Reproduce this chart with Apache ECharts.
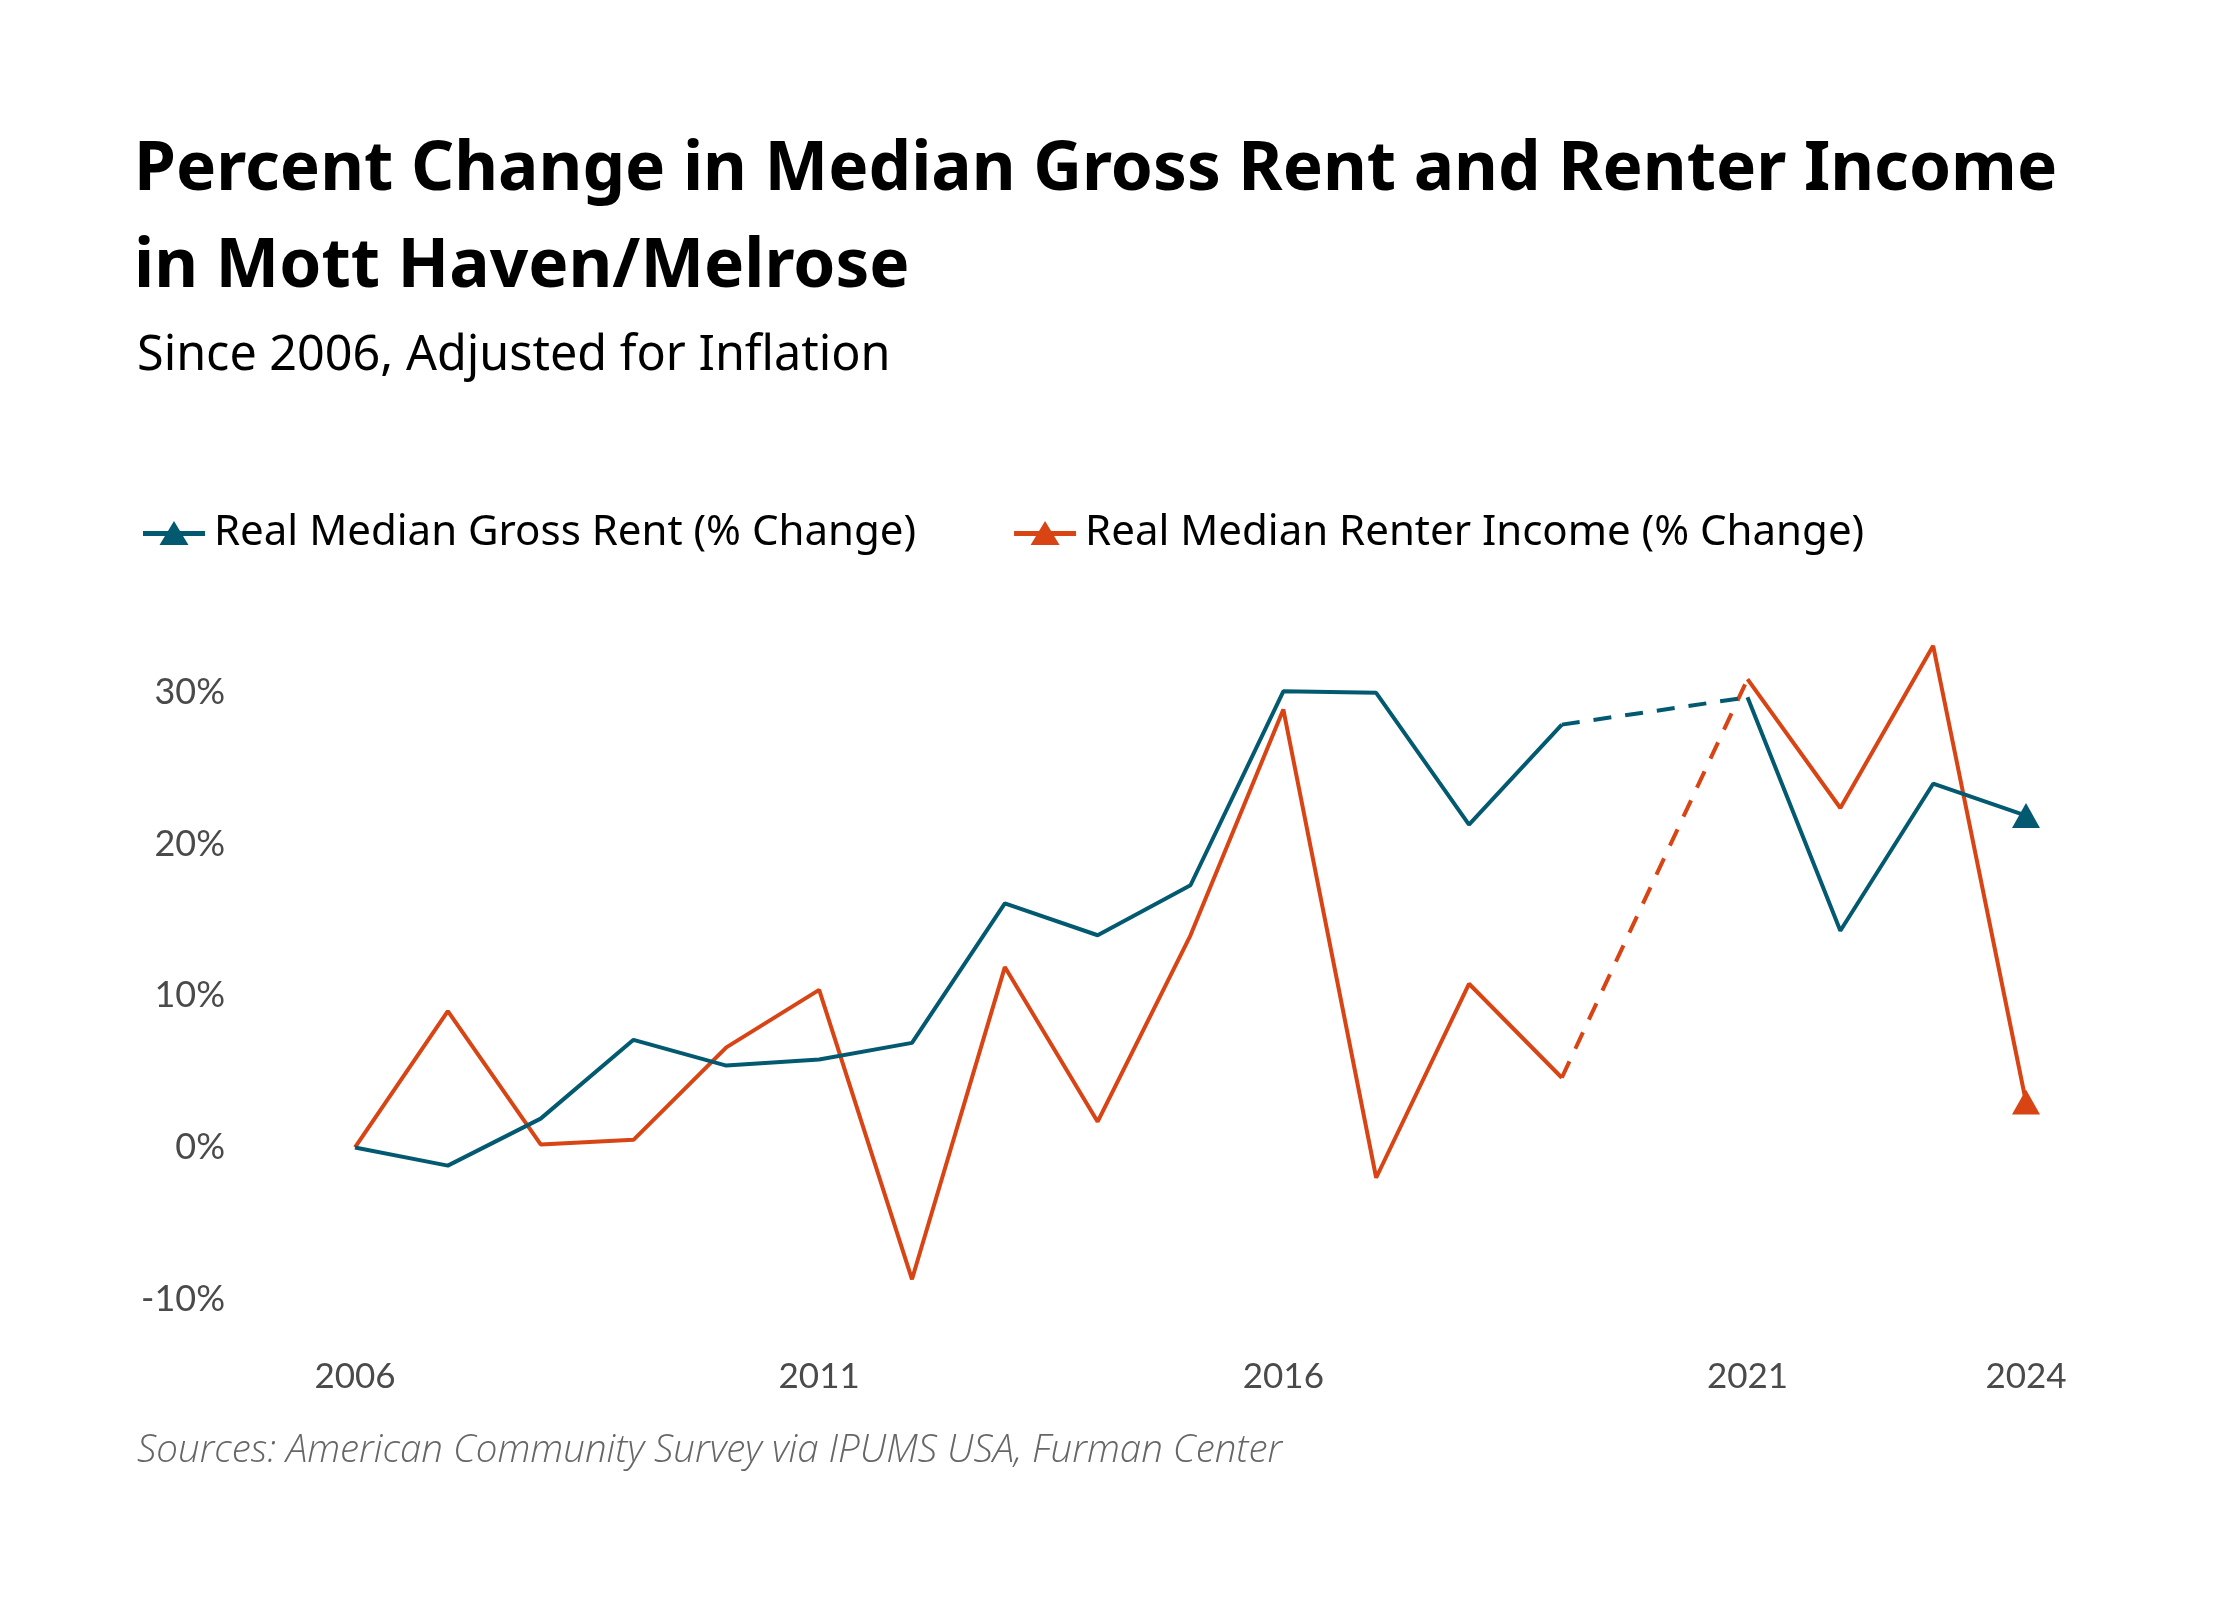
<!DOCTYPE html>
<html>
<head>
<meta charset="utf-8">
<script src="https://cdn.jsdelivr.net/npm/echarts@6/dist/echarts.min.js"></script>
<style>
  html, body { margin: 0; padding: 0; background: #ffffff; }
  #chart { width: 2240px; height: 1600px; }
</style>
</head>
<body>
<div id="chart"></div>
<script>
// 年份（2020 无数据）
const years = ['2006', '2007', '2008', '2009', '2010', '2011', '2012', '2013', '2014', '2015',
  '2016', '2017', '2018', '2019', '2020', '2021', '2022', '2023', '2024'];
// 需要显示的横轴标签
const shownYears = ['2006', '2011', '2016', '2021', '2024'];

// 实际租金中位数变化 (%)
const rentValues = [0, -1.2, 1.9, 7.1, 5.4, 5.8, 6.9, 16.1, 14.0, 17.3,
  30.1, 30.0, 21.3, 27.9, null, 29.7, 14.3, 24.0, 21.9];
// 租户收入中位数变化 (%)
const incomeValues = [0, 9.0, 0.2, 0.5, 6.6, 10.4, -8.7, 11.9, 1.7, 14.0,
  28.9, -2.0, 10.8, 4.6, null, 30.9, 22.4, 33.1, 3.0];

// 纵轴刻度
const yTicks = [-10, 0, 10, 20, 30];

const rentColor = '#035a70';
const incomeColor = '#d94414';
const legendIcon = 'path://M0,10 L62,10 L62,15 L0,15 Z M31,0 L45.5,24 L16.5,24 Z';

// 实线：末端带三角形
function solidData(values) {
  return values.map((v, i) => {
    if (i === values.length - 1) {
      return { value: v, symbol: 'triangle', symbolSize: [28, 25] };
    }
    return v;
  });
}

// 虚线：只连接 2019 与 2021
function gapData(values) {
  const gap = years.indexOf('2020');
  return values.map((v, i) => (i === gap - 1 || i === gap + 1) ? v : null);
}

const chart = echarts.init(document.getElementById('chart'));

chart.setOption({
  backgroundColor: '#ffffff',
  animation: false,
  title: [
    {
      text: 'Percent Change in Median Gross Rent and Renter Income\nin Mott Haven/Melrose',
      left: 129,
      top: 117,
      textStyle: {
        fontFamily: 'Noto Sans',
        fontWeight: 'bold',
        fontSize: 67.5,
        lineHeight: 97,
        color: '#000000'
      }
    },
    {
      text: 'Since 2006, Adjusted for Inflation',
      left: 132,
      top: 320,
      textStyle: {
        fontFamily: 'Noto Sans',
        fontWeight: 'normal',
        fontSize: 48.5,
        lineHeight: 62,
        color: '#000000'
      }
    },
    {
      text: 'Sources: American Community Survey via IPUMS USA, Furman Center',
      left: 132,
      top: 1422,
      textStyle: {
        fontFamily: 'Open Sans',
        fontStyle: 'italic',
        fontWeight: 300,
        fontSize: 38.5,
        lineHeight: 48,
        color: '#666666'
      }
    }
  ],
  legend: {
    left: 138,
    top: 507,
    itemWidth: 62,
    itemHeight: 24,
    itemGap: 98,
    textStyle: {
      fontFamily: 'Noto Sans',
      fontSize: 42,
      color: '#000000',
      padding: [0, 0, 0, 4]
    },
    data: [
      { name: 'Real Median Gross Rent (% Change)', icon: legendIcon, itemStyle: { color: rentColor } },
      { name: 'Real Median Renter Income (% Change)', icon: legendIcon, itemStyle: { color: incomeColor } }
    ]
  },
  grid: {
    left: 355,
    right: 214,
    top: 617,
    bottom: 301,
    containLabel: false
  },
  xAxis: {
    type: 'category',
    data: years,
    boundaryGap: false,
    axisLine: { show: false },
    axisTick: { show: false },
    splitLine: { show: false },
    axisLabel: {
      interval: 0,
      margin: 60,
      fontFamily: 'Lato',
      fontSize: 35,
      color: '#4a4a4a',
      formatter: v => (shownYears.includes(v) ? v : '')
    }
  },
  yAxis: {
    type: 'value',
    min: -10,
    max: 35,
    interval: 10,
    axisLine: { show: false },
    axisTick: { show: false },
    splitLine: { show: false },
    axisLabel: {
      margin: 130,
      fontFamily: 'Lato',
      fontSize: 36,
      color: '#4a4a4a',
      formatter: v => (yTicks.includes(v) ? v + '%' : '')
    }
  },
  series: [
    {
      name: 'Real Median Gross Rent (% Change)',
      type: 'line',
      data: solidData(rentValues),
      symbol: 'none',
      connectNulls: false,
      color: rentColor,
      lineStyle: { width: 4, color: rentColor },
      itemStyle: { color: rentColor },
      z: 3
    },
    {
      name: 'Real Median Gross Rent (% Change)',
      type: 'line',
      data: gapData(rentValues),
      symbol: 'none',
      connectNulls: true,
      lineStyle: { width: 4, color: rentColor, type: [18, 14] },
      z: 3
    },
    {
      name: 'Real Median Renter Income (% Change)',
      type: 'line',
      data: solidData(incomeValues),
      symbol: 'none',
      connectNulls: false,
      color: incomeColor,
      lineStyle: { width: 4, color: incomeColor },
      itemStyle: { color: incomeColor },
      z: 2
    },
    {
      name: 'Real Median Renter Income (% Change)',
      type: 'line',
      data: gapData(incomeValues),
      symbol: 'none',
      connectNulls: true,
      lineStyle: { width: 4, color: incomeColor, type: [18, 14] },
      z: 2
    }
  ]
});
</script>
</body>
</html>
